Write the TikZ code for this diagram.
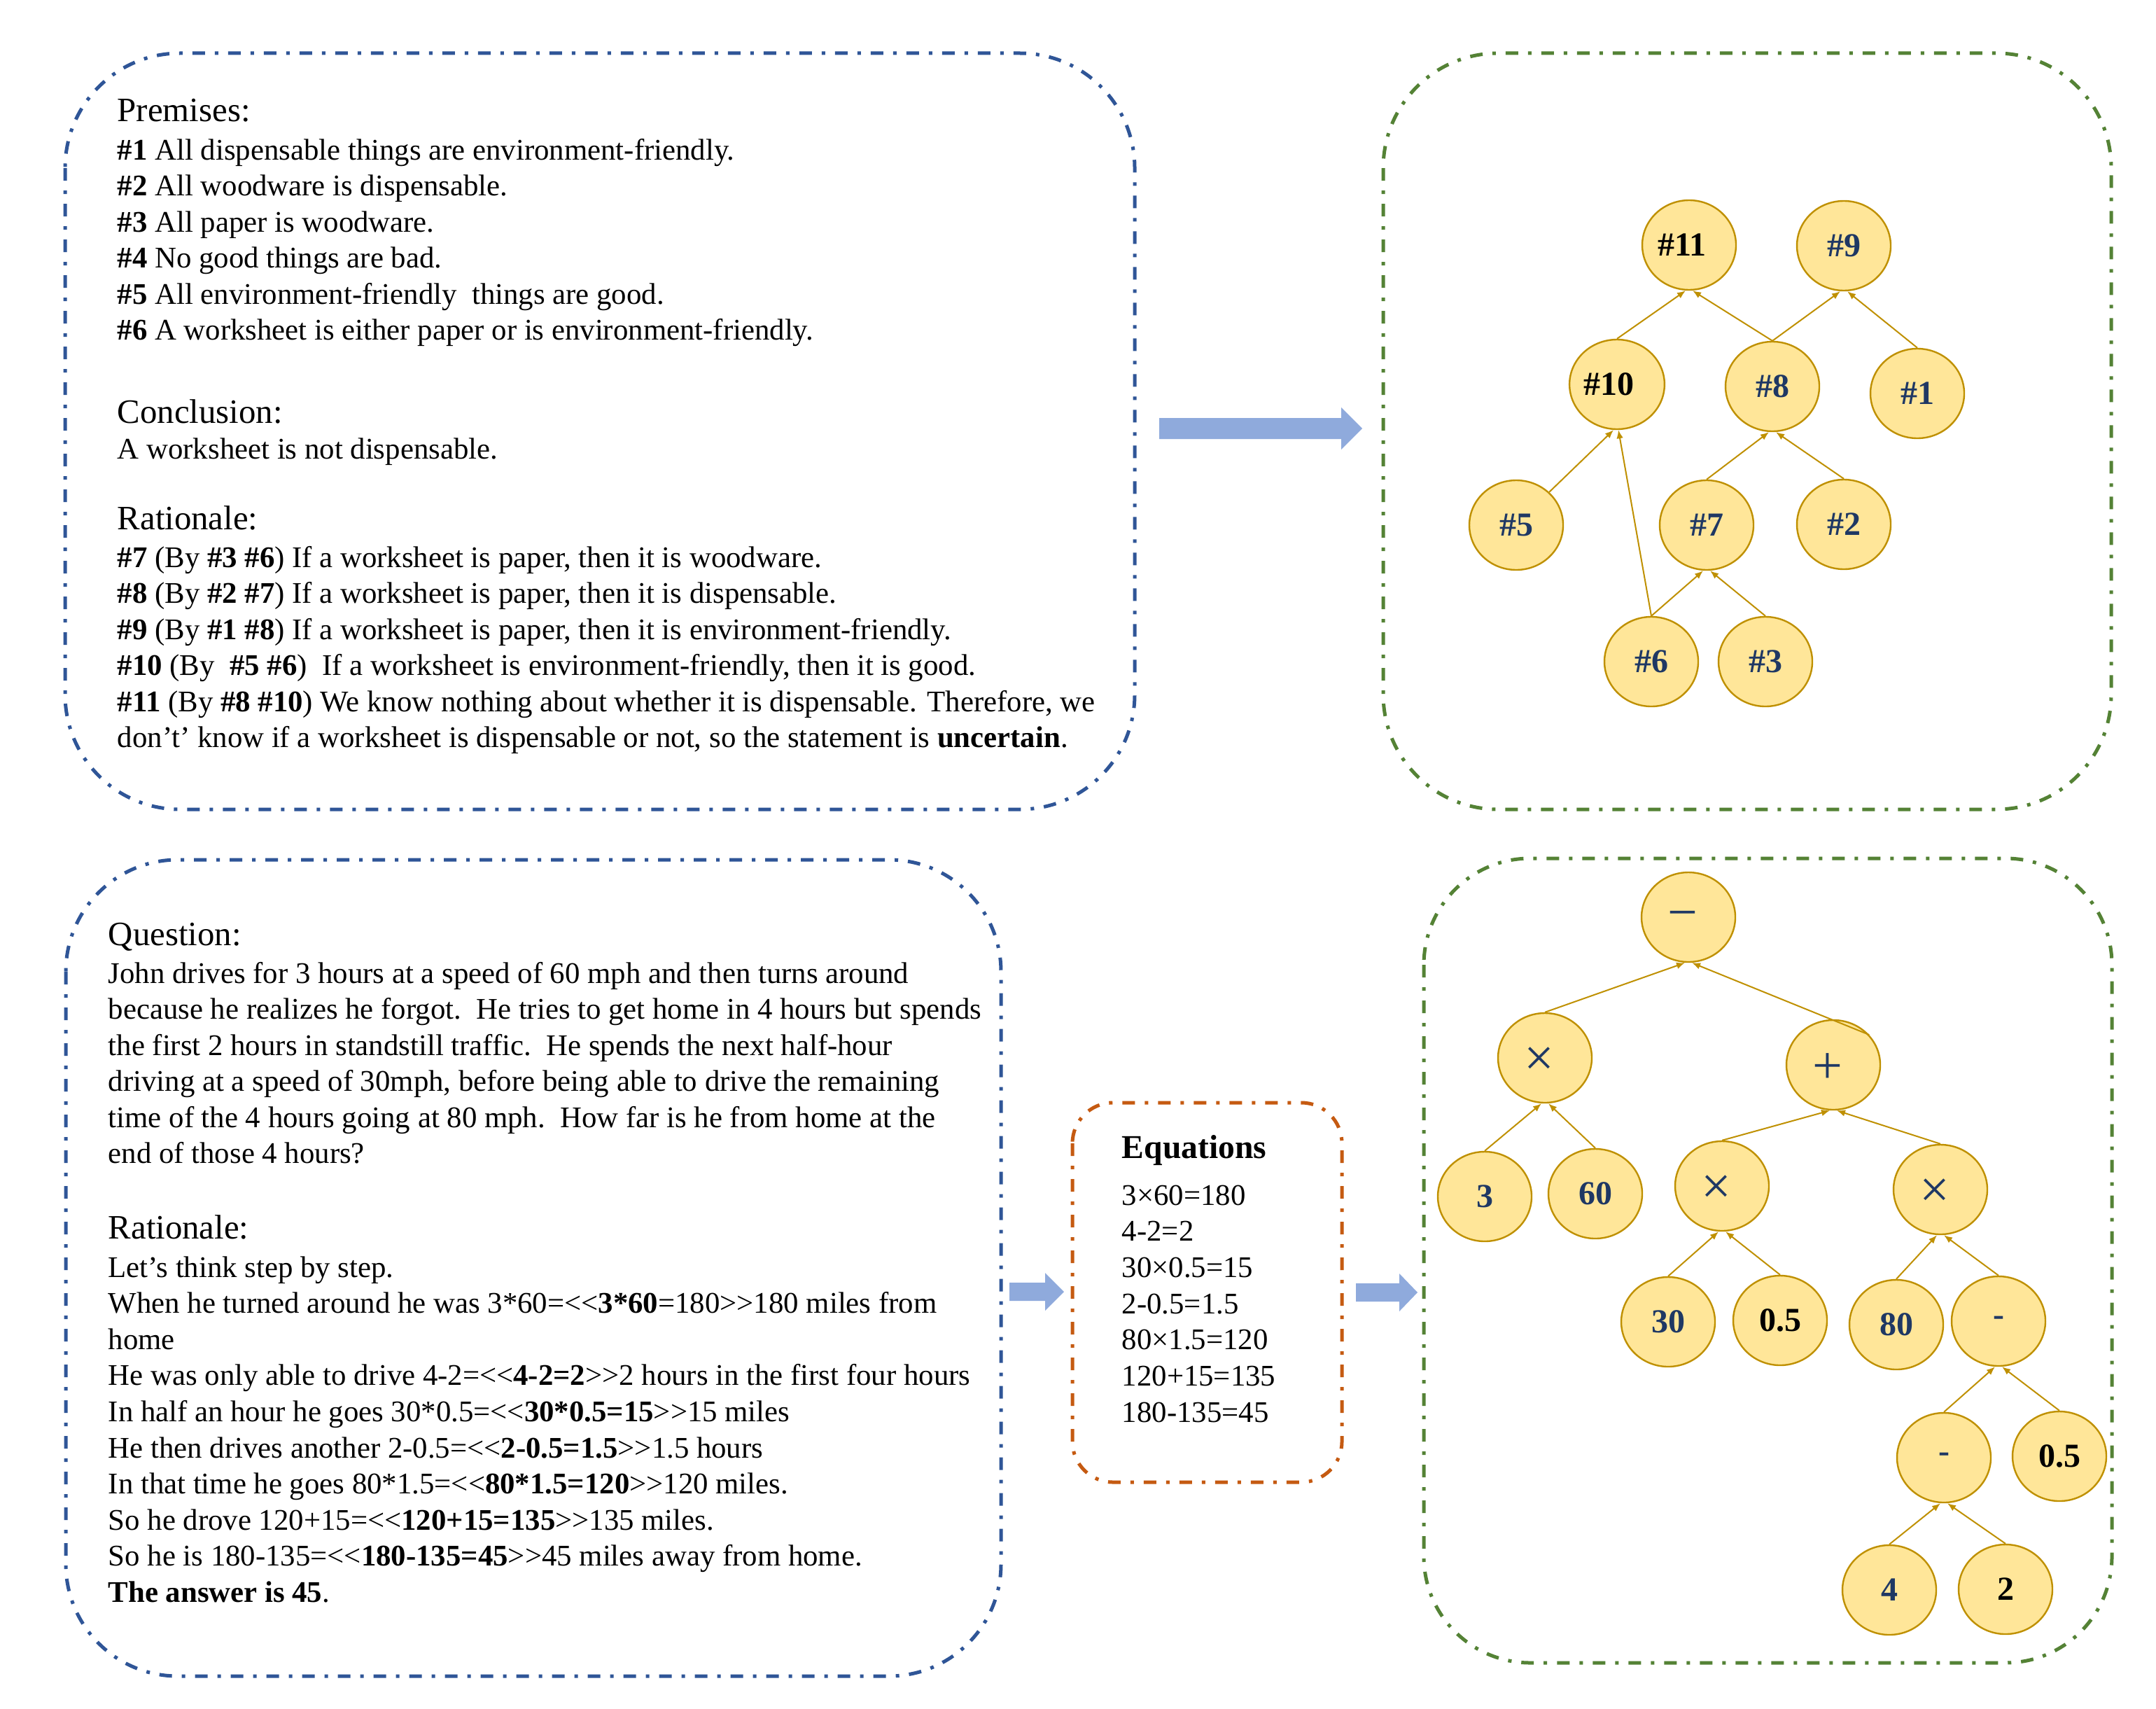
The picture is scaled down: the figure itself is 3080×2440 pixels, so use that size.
\documentclass[tikz,border=0pt]{standalone}
\usepackage{fontspec}
\setmainfont{Liberation Serif}
\usetikzlibrary{shapes.geometric,arrows.meta}
\definecolor{boxblue}{HTML}{2F5597}
\definecolor{boxgreen}{HTML}{548235}
\definecolor{boxorange}{HTML}{C55A11}
\definecolor{arrowblue}{HTML}{8FAADC}
\definecolor{nodefill}{HTML}{FFE699}
\definecolor{nodeline}{HTML}{BF9000}
\definecolor{navy}{HTML}{1F3864}
\newcommand\LLt{<\kern0pt<}
\newcommand\GGt{>\kern0pt>}
\begin{document}
\begin{tikzpicture}[x=0.25pt,y=-0.25pt,
  boxframe/.style={line width=1.25pt, dash pattern=on 4.5pt off 3.5pt on 1.25pt off 3.5pt},
  tn/.style={ellipse, draw=nodeline, fill=nodefill, line width=0.6pt, minimum width=33.5pt, minimum height=32pt, inner sep=0pt, font=\fontsize{12}{12}\selectfont\bfseries, text=navy},
  blk/.style={text=black},
  oplab/.style={font=\fontsize{19}{19}\selectfont, text=navy, inner sep=0pt, xshift=-2pt, yshift=-1.25pt},
  link/.style={draw=nodeline, line width=0.5pt, -{Latex[length=3pt,width=2.4pt]}},
  txt/.style={anchor=base west, inner sep=0pt, font=\fontsize{10.7}{12.9}\selectfont},
  hd/.style={anchor=base west, inner sep=0pt, font=\fontsize{12.2}{14}\selectfont}]
\useasboundingbox (0,0) rectangle (3080,2440);
\fill[white] (0,0) rectangle (3080,2440);

% frames
\draw[boxframe, draw=boxblue, rounded corners=41pt] (93,76) rectangle (1621,1156);
\draw[boxframe, draw=boxgreen, rounded corners=41pt] (1976,76) rectangle (3016,1156);
\draw[boxframe, draw=boxblue, rounded corners=40pt] (94,1228) rectangle (1430,2394);
\draw[boxframe, draw=boxorange, rounded corners=14.5pt] (1532,1575) rectangle (1917,2117);
\draw[boxframe, draw=boxgreen, rounded corners=38pt] (2034,1226) rectangle (3017,2375);

% block arrows
\fill[arrowblue] (1656,597) -- (1916,597) -- (1916,582) -- (1946,612) -- (1916,642) -- (1916,627) -- (1656,627) -- cycle;
\fill[arrowblue] (1442,1832) -- (1493,1832) -- (1493,1818) -- (1520,1845) -- (1493,1872) -- (1493,1858) -- (1442,1858) -- cycle;
\fill[arrowblue] (1937,1833) -- (1999,1833) -- (1999,1819) -- (2025,1846) -- (1999,1873) -- (1999,1859) -- (1937,1859) -- cycle;

% top-left text
\node[hd] (pH) at (167,174) {Premises:};
\node[txt] (p1) at (167,228) {\textbf{\#1} All dispensable things are environment-friendly.};
\node[txt] (p2) at (167,279.5) {\textbf{\#2} All woodware is dispensable.};
\node[txt] (p3) at (167,331) {\textbf{\#3} All paper is woodware.};
\node[txt] (p4) at (167,382.5) {\textbf{\#4} No good things are bad.};
\node[txt] (p5) at (167,434) {\textbf{\#5} All environment-friendly\ \ things are good.};
\node[txt] (p6) at (167,485.5) {\textbf{\#6} A worksheet is either paper or is environment-friendly.};
\node[hd] (cH) at (167,604) {Conclusion:};
\node[txt] (c1) at (167,655) {A worksheet is not dispensable.};
\node[hd] (rH) at (167,756) {Rationale:};
\node[txt] (r7) at (167,810) {\textbf{\#7} (By \textbf{\#3 \#6}) If a worksheet is paper, then it is woodware.};
\node[txt] (r8) at (167,861.5) {\textbf{\#8} (By \textbf{\#2 \#7}) If a worksheet is paper, then it is dispensable.};
\node[txt] (r9) at (167,913) {\textbf{\#9} (By \textbf{\#1 \#8}) If a worksheet is paper, then it is environment-friendly.};
\node[txt] (r10) at (167,964.5) {\textbf{\#10} (By\ \ \textbf{\#5 \#6})\ \ If a worksheet is environment-friendly, then it is good.};
\node[txt] (r11) at (167,1016) {\textbf{\#11} (By \textbf{\#8 \#10}) We know nothing about whether it is dispensable. Therefore, we};
\node[txt] (r11b) at (167,1067.5) {don’t’ know if a worksheet is dispensable or not, so the statement is \textbf{uncertain}.};

% bottom-left text
\node[hd] (qH) at (154,1350) {Question:};
\node[txt] (q1) at (154,1404) {John drives for 3 hours at a speed of 60 mph and then turns around};
\node[txt] (q2) at (154,1455.5) {because he realizes he forgot.\ \ He tries to get home in 4 hours but spends};
\node[txt] (q3) at (154,1507) {the first 2 hours in standstill traffic.\ \ He spends the next half-hour};
\node[txt] (q4) at (154,1558.5) {driving at a speed of 30mph, before being able to drive the remaining};
\node[txt] (q5) at (154,1610) {time of the 4 hours going at 80 mph.\ \ How far is he from home at the};
\node[txt] (q6) at (154,1661.5) {end of those 4 hours?};
\node[hd] (sH) at (154,1769) {Rationale:};
\node[txt] (s1) at (154,1824) {Let’s think step by step.};
\node[txt] (s2) at (154,1875.6) {When he turned around he was 3*60=\LLt\textbf{3*60}=180\GGt180 miles from};
\node[txt] (s3) at (154,1927.2) {home};
\node[txt] (s4) at (154,1978.8) {He was only able to drive 4-2=\LLt\textbf{4-2=2}\GGt2 hours in the first four hours};
\node[txt] (s5) at (154,2030.4) {In half an hour he goes 30*0.5=\LLt\textbf{30*0.5=15}\GGt15 miles};
\node[txt] (s6) at (154,2082) {He then drives another 2-0.5=\LLt\textbf{2-0.5=1.5}\GGt1.5 hours};
\node[txt] (s7) at (154,2133.6) {In that time he goes 80*1.5=\LLt\textbf{80*1.5=120}\GGt120 miles.};
\node[txt] (s8) at (154,2185.2) {So he drove 120+15=\LLt\textbf{120+15=135}\GGt135 miles.};
\node[txt] (s9) at (154,2236.8) {So he is 180-135=\LLt\textbf{180-135=45}\GGt45 miles away from home.};
\node[txt] (s10) at (154,2288.4) {\textbf{The answer is 45}.};

% equations
\node[hd, font=\fontsize{11.9}{14}\selectfont\bfseries] (eH) at (1602,1654) {Equations};
\node[txt] (e1) at (1602,1721) {3×60=180};
\node[txt] (e2) at (1602,1772.7) {4-2=2};
\node[txt] (e3) at (1602,1824.4) {30×0.5=15};
\node[txt] (e4) at (1602,1876.1) {2-0.5=1.5};
\node[txt] (e5) at (1602,1927.8) {80×1.5=120};
\node[txt] (e6) at (1602,1979.5) {120+15=135};
\node[txt] (e7) at (1602,2031.2) {180-135=45};

% top tree
\node[tn,blk] (n11) at (2413,350) {\#11\kern5pt};
\node[tn] (n9) at (2634,351) {\#9};
\node[tn,blk] (n10) at (2310,549) {\#10\kern6pt};
\node[tn] (n8) at (2532,552) {\#8};
\node[tn] (n1) at (2739,562) {\#1};
\node[tn] (n5) at (2166,750) {\#5};
\node[tn] (n7) at (2438,750) {\#7};
\node[tn] (n2) at (2634,749) {\#2};
\node[tn] (n6) at (2359,945) {\#6};
\node[tn] (n3) at (2522,945) {\#3};
\draw[link] (n10.north) -- ([xshift=-1.25pt]n11.south);
\draw[link] (n8.north) -- ([xshift=1.25pt]n11.south);
\draw[link] (n8.north) -- ([xshift=-1.25pt]n9.south);
\draw[link] (n1.north) -- ([xshift=1.25pt]n9.south);
\draw[link] (n5.45) -- ([xshift=-1.25pt]n10.south);
\draw[link] (n6.north) -- ([xshift=0.5pt]n10.south);
\draw[link] (n7.north) -- ([xshift=-1.25pt]n8.south);
\draw[link] (n2.north) -- ([xshift=1.25pt]n8.south);
\draw[link] (n6.north) -- ([xshift=-1.25pt]n7.south);
\draw[link] (n3.north) -- ([xshift=1.25pt]n7.south);

% bottom tree
\node[tn, label={[oplab]center:−}] (minus) at (2412,1310) {};
\node[tn, label={[oplab]center:×}] (xl) at (2207,1511) {};
\node[tn, label={[oplab]center:+}] (plus) at (2619,1521) {};
\node[tn] (c3) at (2121,1709) {3};
\node[tn] (c60) at (2279,1705) {60};
\node[tn, label={[oplab]center:×}] (xm) at (2460,1694) {};
\node[tn, label={[oplab]center:×}] (xr) at (2772,1699) {};
\node[tn] (c30) at (2383,1888) {30};
\node[tn,blk] (c05a) at (2543,1886) {0.5};
\node[tn] (c80) at (2709,1892) {80};
\node[tn] (ma) at (2855,1887) {-};
\node[tn] (mb) at (2777,2082) {-};
\node[tn,blk] (c05b) at (2942,2080) {0.5};
\node[tn] (c4) at (2699,2271) {4};
\node[tn,blk] (c2) at (2865,2270) {2};
\draw[link] (xl.north) -- ([xshift=-1.25pt]minus.south);
\draw[link] (plus.40) -- ([xshift=1.25pt]minus.south);
\draw[link] (c3.north) -- ([xshift=-1.25pt]xl.south);
\draw[link] (c60.north) -- ([xshift=1.25pt]xl.south);
\draw[link] (xm.north) -- ([xshift=-1.25pt]plus.south);
\draw[link] (xr.north) -- ([xshift=1.25pt]plus.south);
\draw[link] (c30.north) -- ([xshift=-1.25pt]xm.south);
\draw[link] (c05a.north) -- ([xshift=1.25pt]xm.south);
\draw[link] (c80.north) -- ([xshift=-1.25pt]xr.south);
\draw[link] (ma.north) -- ([xshift=1.25pt]xr.south);
\draw[link] (mb.north) -- ([xshift=-1.25pt]ma.south);
\draw[link] (c05b.north) -- ([xshift=1.25pt]ma.south);
\draw[link] (c4.north) -- ([xshift=-1.25pt]mb.south);
\draw[link] (c2.north) -- ([xshift=1.25pt]mb.south);
\end{tikzpicture}
\end{document}
